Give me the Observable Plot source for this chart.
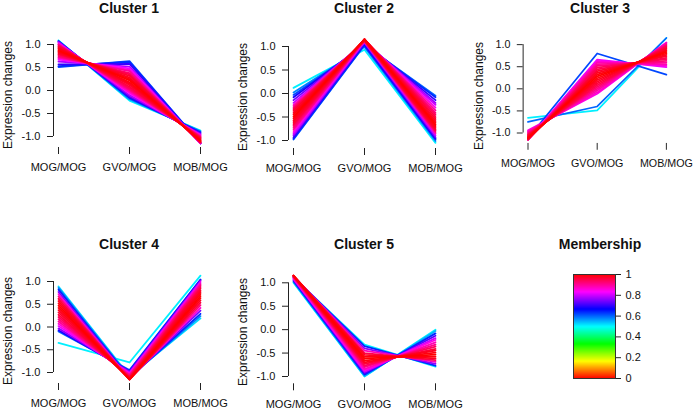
<!DOCTYPE html>
<html><head><meta charset="utf-8">
<script src="https://cdn.jsdelivr.net/npm/d3@7"></script>
<script src="https://cdn.jsdelivr.net/npm/@observablehq/plot@0.6"></script>
<style>
body{margin:0;background:#fff;}
#root{position:relative;width:700px;height:409px;overflow:hidden;font-family:"Liberation Sans",Arial,sans-serif;color:#111;background:#fff;}
.panel{position:absolute;}
.title{position:absolute;font-weight:bold;font-size:14px;line-height:16px;text-align:center;width:200px;white-space:nowrap;}
.ylab{position:absolute;font-size:12px;line-height:12px;width:140px;text-align:center;transform:rotate(-90deg);white-space:nowrap;}
</style></head><body><div id="root"></div>
<script>
// ---- data ----
const stages = ["MOG/MOG", "GVO/MOG", "MOB/MOG"];
const clusterNames = ["Cluster 1", "Cluster 2", "Cluster 3", "Cluster 4", "Cluster 5"];
const yTicks = [-1, -0.5, 0, 0.5, 1];
const membershipTicks = [0, 0.2, 0.4, 0.6, 0.8, 1];
const legendTitle = "Membership";
const yLabel = "Expression changes";

// rows: [MOG/MOG, GVO/MOG, MOB/MOG, membership]
const cluster1 = [
  [0.51, 0.64, -1.15, 0.62], [0.53, 0.62, -1.15, 0.64], [0.57, 0.58, -1.15, 0.70],
  [0.63, 0.52, -1.15, 0.78], [0.67, 0.48, -1.15, 0.83], [0.70, 0.45, -1.15, 0.86],
  [0.72, 0.42, -1.14, 0.90], [0.75, 0.38, -1.13, 0.93], [0.78, 0.35, -1.13, 0.95],
  [0.80, 0.32, -1.12, 0.97], [0.83, 0.28, -1.11, 0.98], [0.85, 0.25, -1.10, 0.99],
  [0.87, 0.22, -1.09, 1.00], [0.90, 0.18, -1.08, 0.99], [0.92, 0.15, -1.07, 0.98],
  [0.93, 0.12, -1.05, 0.97], [0.96, 0.08, -1.04, 0.96], [0.97, 0.05, -1.02, 0.94],
  [0.99, 0.02, -1.01, 0.92], [1.00, 0.00, -1.00, 0.90], [1.01, -0.03, -0.98, 0.87],
  [1.03, -0.06, -0.97, 0.84], [1.05, -0.10, -0.95, 0.78], [1.06, -0.13, -0.93, 0.72],
  [1.07, -0.16, -0.91, 0.65], [1.08, -0.19, -0.89, 0.58], [1.09, -0.22, -0.87, 0.51]
];
const cluster2 = [
  [0.12, 0.93, -1.05, 0.51], [0.02, 0.99, -1.01, 0.58], [-0.03, 1.01, -0.98, 0.62],
  [-0.08, 1.04, -0.96, 0.68], [-0.14, 1.07, -0.93, 0.74], [-0.20, 1.09, -0.89, 0.80],
  [-0.25, 1.10, -0.85, 0.88], [-0.29, 1.11, -0.82, 0.92], [-0.33, 1.12, -0.79, 0.95],
  [-0.37, 1.13, -0.76, 0.97], [-0.41, 1.14, -0.73, 0.98], [-0.45, 1.145, -0.695, 0.99],
  [-0.49, 1.15, -0.66, 1.00], [-0.53, 1.153, -0.623, 0.99], [-0.57, 1.155, -0.585, 0.98],
  [-0.61, 1.153, -0.543, 0.97], [-0.65, 1.15, -0.50, 0.96], [-0.69, 1.145, -0.455, 0.94],
  [-0.73, 1.14, -0.41, 0.92], [-0.77, 1.13, -0.36, 0.90], [-0.82, 1.12, -0.30, 0.85],
  [-0.86, 1.10, -0.24, 0.80], [-0.89, 1.09, -0.20, 0.76], [-0.93, 1.07, -0.14, 0.70],
  [-0.96, 1.04, -0.08, 0.64], [-0.98, 1.03, -0.05, 0.60]
];
const cluster3 = [
  [-1.12, 0.80, 0.32, 0.62], [-0.75, -0.40, 1.15, 0.60], [-0.66, -0.49, 1.15, 0.51],
  [-1.15, 0.66, 0.49, 0.82], [-1.15, 0.63, 0.52, 0.85], [-1.15, 0.60, 0.55, 0.88],
  [-1.15, 0.56, 0.59, 0.90], [-1.15, 0.52, 0.63, 0.92], [-1.15, 0.48, 0.67, 0.94],
  [-1.14, 0.44, 0.70, 0.95], [-1.14, 0.40, 0.74, 0.97], [-1.13, 0.36, 0.77, 0.98],
  [-1.12, 0.32, 0.80, 0.99], [-1.11, 0.28, 0.83, 1.00], [-1.10, 0.24, 0.86, 0.99],
  [-1.08, 0.20, 0.88, 0.98], [-1.07, 0.16, 0.91, 0.97], [-1.05, 0.12, 0.93, 0.96],
  [-1.04, 0.08, 0.96, 0.95], [-1.02, 0.04, 0.98, 0.93], [-1.00, 0.00, 1.00, 0.91],
  [-0.98, -0.04, 1.02, 0.89], [-0.96, -0.08, 1.04, 0.87], [-0.94, -0.11, 1.05, 0.85]
];
const cluster4 = [
  [-0.35, -0.78, 1.13, 0.51], [0.89, -1.08, 0.19, 0.52], [0.86, -1.10, 0.24, 0.58],
  [0.82, -1.11, 0.29, 0.64], [0.77, -1.13, 0.36, 0.75], [0.72, -1.14, 0.42, 0.86],
  [0.67, -1.15, 0.48, 0.92], [0.62, -1.153, 0.533, 0.96], [0.57, -1.155, 0.585, 0.98],
  [0.52, -1.153, 0.633, 0.99], [0.47, -1.15, 0.68, 1.00], [0.42, -1.145, 0.725, 0.99],
  [0.37, -1.135, 0.765, 0.98], [0.32, -1.12, 0.80, 0.97], [0.27, -1.11, 0.84, 0.96],
  [0.22, -1.095, 0.875, 0.94], [0.17, -1.075, 0.905, 0.92], [0.12, -1.055, 0.935, 0.90],
  [0.07, -1.035, 0.965, 0.86], [0.02, -1.01, 0.99, 0.82], [-0.03, -0.985, 1.015, 0.76],
  [-0.07, -0.965, 1.035, 0.68], [-0.10, -0.945, 1.045, 0.60]
];
const cluster5 = [
  [1.00, -1.00, 0.00, 0.51], [1.02, -0.99, -0.03, 0.55], [1.04, -0.96, -0.08, 0.64],
  [1.06, -0.93, -0.13, 0.72], [1.08, -0.90, -0.18, 0.80], [1.09, -0.87, -0.22, 0.85],
  [1.11, -0.84, -0.27, 0.88], [1.12, -0.80, -0.32, 0.91], [1.13, -0.77, -0.36, 0.94],
  [1.14, -0.73, -0.41, 0.96], [1.145, -0.70, -0.445, 0.98], [1.15, -0.66, -0.49, 0.99],
  [1.153, -0.62, -0.533, 1.00], [1.155, -0.58, -0.575, 0.99], [1.153, -0.54, -0.613, 0.98],
  [1.15, -0.50, -0.65, 0.95], [1.14, -0.45, -0.69, 0.88], [1.13, -0.40, -0.73, 0.76],
  [1.12, -0.35, -0.77, 0.64], [1.11, -0.32, -0.79, 0.51]
];
const clusters = [cluster1, cluster2, cluster3, cluster4, cluster5];

// ---- layout (pixels) ----
const W = 235, H = 236;
const layout = [
  {left: 0,   top: 0,     yTop: 44,   yBottom: 136, axisY: 147},
  {left: 235, top: 0,     yTop: 46,   yBottom: 140, axisY: 148},
  {left: 471, top: 0,     yTop: 45.3, yBottom: 136, axisY: 146.7},
  {left: 0,   top: 235.7, yTop: 45,   yBottom: 136, axisY: 147},
  {left: 235, top: 235.7, yTop: 46.3, yBottom: 140, axisY: 147.3}
];

const rainbow = t => d3.hsl(360 * t, 1, 0.5).formatHex();
const fontStyle = {fontFamily: '"Liberation Sans", Arial, sans-serif', fontSize: "11px", color: "#111", background: "transparent", overflow: "visible"};
const root = document.getElementById("root");

function addDiv(cls, text, left, top) {
  const d = document.createElement("div");
  d.className = cls; d.textContent = text;
  d.style.left = left + "px"; d.style.top = top + "px";
  root.appendChild(d);
}

clusters.forEach((rows, k) => {
  const L = layout[k];
  const sorted = rows.map((r, i) => ({r, i})).sort((a, b) => a.r[3] - b.r[3]);
  const long = sorted.flatMap(({r, i}) => stages.map((s, j) => ({id: i, stage: s, value: r[j], mem: r[3]})));
  const insetB = L.axisY - L.yBottom;
  const svg = Plot.plot({
    width: W, height: H,
    marginLeft: 53, marginRight: 30, marginTop: L.yTop, marginBottom: H - L.axisY,
    x: {type: "point", domain: stages, padding: 0, insetLeft: 5, insetRight: 5, axis: null, label: null},
    y: {domain: [-1, 1], insetBottom: insetB, axis: null, label: null},
    color: {type: "linear", domain: [0, 1], interpolate: rainbow},
    style: fontStyle,
    marks: [
      Plot.line(long, {x: "stage", y: "value", z: "id", stroke: "mem", strokeWidth: 1.8, curve: "linear"}),
      Plot.ruleX([stages[0]], {y1: -1, y2: 1, dx: -5, stroke: "#222"}),
      Plot.ruleY([-1], {x1: stages[0], x2: stages[2], dy: insetB, stroke: "#222"}),
      Plot.axisY(yTicks, {anchor: "left", tickSize: 6, tickPadding: 7, tickFormat: d => d.toFixed(1), stroke: "#222", label: null}),
      Plot.axisX(stages, {anchor: "bottom", tickSize: 7, tickPadding: 9, stroke: "#222", label: null})
    ]
  });
  const wrap = document.createElement("div");
  wrap.className = "panel";
  wrap.style.left = L.left + "px"; wrap.style.top = L.top + "px";
  wrap.appendChild(svg);
  root.appendChild(wrap);
  addDiv("title", clusterNames[k], L.left + 129 - 100, L.top);
  addDiv("ylab", yLabel, L.left + 7.5 - 70, L.top + (L.yTop + L.axisY) / 2 - 0.5 - 6);
});

// legend
const legend = Plot.plot({
  width: 160, height: 173,
  marginLeft: 33, marginRight: 85, marginTop: 38, marginBottom: 31,
  x: {domain: [0, 1], axis: null},
  y: {domain: [0, 1], axis: null},
  color: {type: "linear", domain: [0, 1], interpolate: rainbow},
  style: fontStyle,
  marks: [
    Plot.raster({x1: 0, x2: 1, y1: 0, y2: 1, fill: (x, y) => y, pixelSize: 1}),
    Plot.frame({stroke: "#333"}),
    Plot.axisY(membershipTicks, {anchor: "right", tickSize: 5, tickPadding: 5, tickFormat: d => String(d), stroke: "#222", label: null})
  ]
});
const lw = document.createElement("div");
lw.className = "panel"; lw.style.left = "540px"; lw.style.top = "236px";
lw.appendChild(legend);
root.appendChild(lw);
addDiv("title", legendTitle, 600 - 100, 235.7);
</script>
</body></html>
